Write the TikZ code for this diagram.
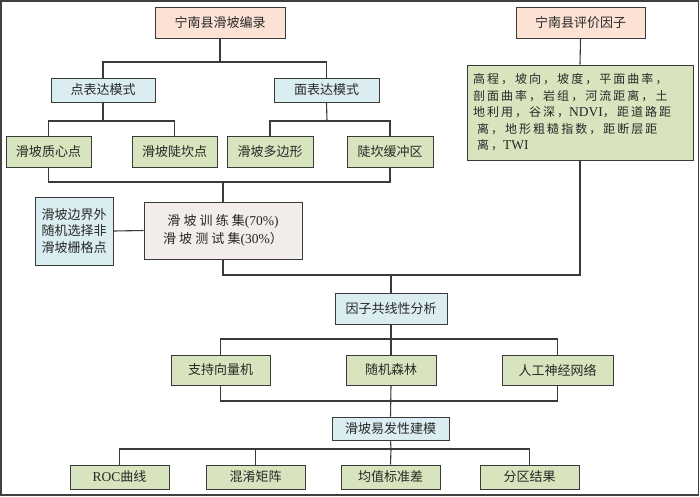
\documentclass[tikz,border=0pt]{standalone}
\usepackage{fontspec}
\setmainfont{Liberation Serif}
\newfontfamily\cjk{Noto Sans CJK SC}
\newfontfamily\cjkw[LetterSpace=17]{Noto Sans CJK SC}
\newfontfamily\cjkt[LetterSpace=24]{Noto Sans CJK SC}
\newcommand\latx[1]{{\rmfamily\fontsize{13.5}{16}\selectfont #1}}
\usetikzlibrary{shadows}
\definecolor{peach}{RGB}{252,226,212}
\definecolor{lblue}{RGB}{218,238,241}
\definecolor{lgreen}{RGB}{215,228,189}
\definecolor{trainc}{RGB}{242,236,235}
\definecolor{linec}{RGB}{58,58,58}
\definecolor{txtc}{RGB}{40,40,40}
\tikzset{
  box/.style={draw=linec, line width=1pt, inner sep=0pt, anchor=center,
    text=txtc, font=\cjk\fontsize{13}{16.5}\selectfont, align=center,
    drop shadow={shadow xshift=0.9pt, shadow yshift=-0.9pt, opacity=1, fill=black!70}},
  pinkbox/.style={box, fill=peach},
  bluebox/.style={box, fill=lblue},
  greenbox/.style={box, fill=lgreen},
  conn/.style={draw=linec, line width=1.1pt},
}
\begin{document}
\begin{tikzpicture}[x=1pt,y=-1pt]
\useasboundingbox (0,0) rectangle (700,496);
\draw[line width=1.6pt, draw=black!75] (1,1) rectangle (698.5,494.8);

% nodes
\node[pinkbox, minimum width=130pt, minimum height=31pt] (top1) at (220,22.5) {宁南县滑坡编录};
\node[pinkbox, minimum width=129pt, minimum height=31pt] (top2) at (580.5,22.5) {宁南县评价因子};
\node[bluebox, minimum width=104pt, minimum height=24pt] (pt) at (103,90) {点表达模式};
\node[bluebox, minimum width=105pt, minimum height=24pt] (ar) at (326.5,90) {面表达模式};
\node[greenbox, minimum width=85pt, minimum height=31pt] (c1) at (48.5,151.5) {滑坡质心点};
\node[greenbox, minimum width=85pt, minimum height=31pt] (c2) at (174.5,151.5) {滑坡陡坎点};
\node[greenbox, minimum width=86pt, minimum height=31pt] (c3) at (270,151.5) {滑坡多边形};
\node[greenbox, minimum width=86pt, minimum height=31pt] (c4) at (390,151.5) {陡坎缓冲区};
\node[greenbox, minimum width=226pt, minimum height=95pt, text width=214pt, align=left,
  font=\cjkw\fontsize{12}{16.5}\selectfont] (fac) at (580,112.5)
  {高程，坡向，坡度，平面曲率，\\剖面曲率，岩组，河流距离，土\\地利用，谷深，\latx{NDVI}，距道路距\\\hspace*{4pt}离，地形粗糙指数，距断层距\\\hspace*{4pt}离，\latx{TWI}};
\node[bluebox, minimum width=78pt, minimum height=68pt, font=\cjk\fontsize{13}{16.7}\selectfont] (lft) at (74,231) {滑坡边界外\\随机选择非\\滑坡栅格点};
\node[box, fill=trainc, minimum width=158pt, minimum height=57pt, font=\cjkt\fontsize{13}{18}\selectfont] (train) at (223,230.5)
  {滑坡训练集\latx{(70\%)}\\滑坡测试集\latx{(30\%}）};
\node[bluebox, minimum width=112pt, minimum height=31pt] (coll) at (391,308.5) {因子共线性分析};
\node[greenbox, minimum width=99pt, minimum height=30pt] (svm) at (220.5,370) {支持向量机};
\node[greenbox, minimum width=90pt, minimum height=30pt] (rf) at (391,370) {随机森林};
\node[greenbox, minimum width=111pt, minimum height=30pt] (ann) at (557.5,370) {人工神经网络};
\node[bluebox, minimum width=117pt, minimum height=23pt] (model) at (390.5,428.5) {滑坡易发性建模};
\node[greenbox, minimum width=99pt, minimum height=24pt] (roc) at (119.5,477) {\latx{ROC}曲线};
\node[greenbox, minimum width=99pt, minimum height=24pt] (conf) at (255.5,477) {混淆矩阵};
\node[greenbox, minimum width=99pt, minimum height=24pt] (mean) at (390.5,477) {均值标准差};
\node[greenbox, minimum width=99pt, minimum height=24pt] (zone) at (529.5,477) {分区结果};

% junctions
\coordinate (j1) at (220,62);
\coordinate (j2) at (103,121);
\coordinate (j3) at (327,121);
\coordinate (j4) at (223,182);
\coordinate (j5) at (391,275);
\coordinate (j6) at (391,339);
\coordinate (j7) at (391,401);
\coordinate (j8) at (391,449);

% connectors
\draw[conn] (top1.south) -- (j1);
\draw[conn] (pt.north) |- (j1) -| (ar.north);
\draw[conn] (pt.south) -- (j2);
\draw[conn] (c1.north) |- (j2) -| (c2.north);
\draw[conn] (ar.south) -- (j3);
\draw[conn] (c3.north) |- (j3) -| (c4.north);
\draw[conn] (c1.south) |- (j4) -| (c4.south);
\draw[conn] (j4) -- (train.north);
\draw[conn] (lft.east) -- (train.west);
\draw[conn] (top2.south) -- (fac.north);
\draw[conn] (train.south) |- (j5) -| (fac.south);
\draw[conn] (j5) -- (coll.north);
\draw[conn] (coll.south) -- (j6);
\draw[conn] (svm.north) |- (j6) -| (ann.north);
\draw[conn] (j6) -- (rf.north);
\draw[conn] (svm.south) |- (j7) -| (ann.south);
\draw[conn] (rf.south) -- (model.north);
\draw[conn] (model.south) -- (j8);
\draw[conn] (roc.north) |- (j8) -| (zone.north);
\draw[conn] (conf.north) -- (conf.north |- j8);
\draw[conn] (j8) -- (mean.north);
\end{tikzpicture}
\end{document}
